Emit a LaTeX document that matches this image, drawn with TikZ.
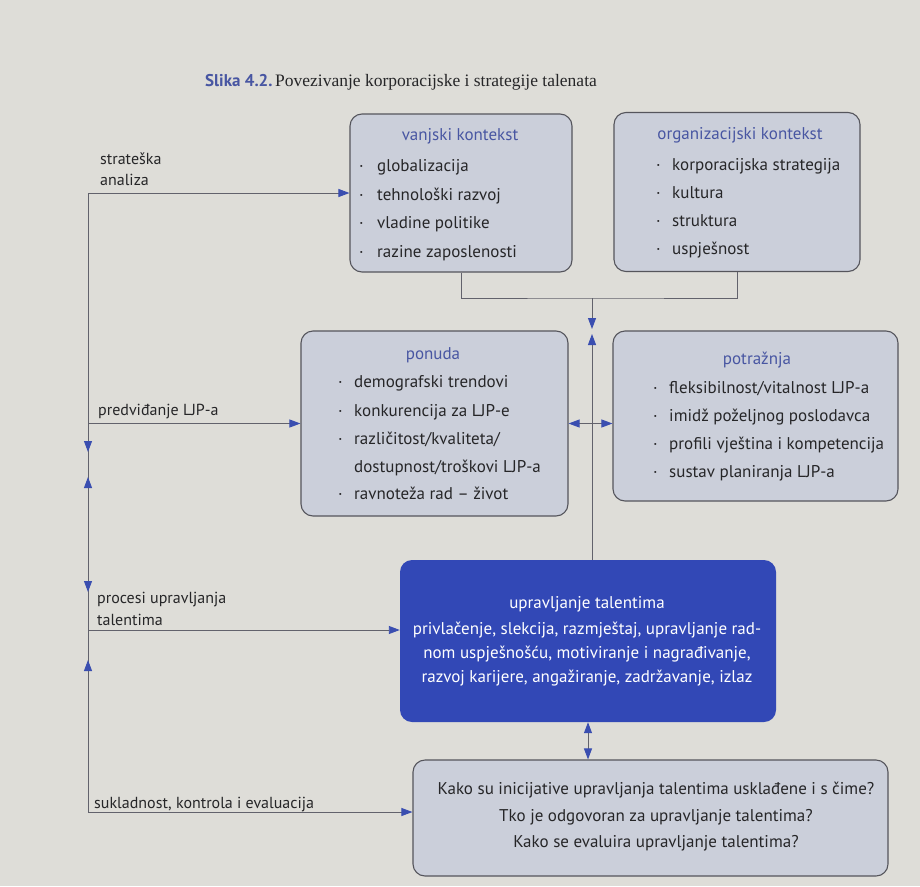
\documentclass[tikz,border=0pt]{standalone}
\usepackage{fontspec}
\setmainfont{PT Sans}
\newfontfamily\titleserif{Liberation Serif}
\usetikzlibrary{arrows.meta,decorations.markings}
\definecolor{pagebg}{RGB}{222,221,216}
\definecolor{boxfill}{RGB}{203,207,218}
\definecolor{boxline}{RGB}{85,85,92}
\definecolor{headblue}{RGB}{72,86,162}
\definecolor{talblue}{RGB}{50,72,182}
\definecolor{arrblue}{RGB}{58,78,176}
\definecolor{linegrey}{RGB}{98,98,108}
\definecolor{textdark}{RGB}{38,38,40}
\begin{document}
\begin{tikzpicture}[x=1pt,y=-1pt,
  >={Triangle[length=11pt,width=8pt,color=arrblue]},
  box/.style={draw=boxline, line width=1.1pt, fill=boxfill, rounded corners=12pt, inner sep=0pt},
  tbox/.style={fill=talblue, rounded corners=12pt, inner sep=0pt},
  txt/.style={font=\fontsize{17}{20}\selectfont, text height=12pt, text depth=3pt, inner sep=0pt},
  head/.style={txt, text=headblue},
  item/.style={txt, text=textdark, anchor=west},
  wtxt/.style={txt, text=white},
  qtxt/.style={txt, text=textdark},
  lab/.style={txt, text=textdark, anchor=west, font=\fontsize{16}{19}\selectfont},
  conn/.style={draw=linegrey, line width=0.9pt},
]
\fill[pagebg] (0,0) rectangle (920,886);
\useasboundingbox (0,0) rectangle (920,886);

% title
\node[anchor=west, inner sep=0pt] (title) at (205,82)
  {{\color{headblue}\fontsize{17}{20}\selectfont\bfseries Slika 4.2.}\ {\titleserif\fontsize{17.5}{20}\selectfont\color{textdark}Povezivanje korporacijske i strategije talenata}};

% boxes
\node[box, minimum width=222pt, minimum height=158pt] (vanj) at (461,193) {};
\node[box, minimum width=246pt, minimum height=159pt] (org) at (737,192) {};
\node[box, minimum width=267pt, minimum height=185pt] (pon) at (434.5,423.5) {};
\node[box, minimum width=285pt, minimum height=170pt] (pot) at (755.5,416) {};
\node[tbox, minimum width=376pt, minimum height=162pt] (upr) at (588,641) {};
\node[box, minimum width=475pt, minimum height=116pt] (q) at (650.5,818) {};

% vanjski kontekst
\node[head] (vh) at (460,136) {vanjski kontekst};
\node[item] (v1) at (359,167) {\makebox[18pt][l]{·}globalizacija};
\node[item] (v2) at (359,196) {\makebox[18pt][l]{·}tehnološki razvoj};
\node[item] (v3) at (359,224) {\makebox[18pt][l]{·}vladine politike};
\node[item] (v4) at (359,253) {\makebox[18pt][l]{·}razine zaposlenosti};

% organizacijski kontekst
\node[head] (oh) at (740,135) {organizacijski kontekst};
\node[item] (o1) at (656,166) {\makebox[16pt][l]{·}korporacijska strategija};
\node[item] (o2) at (656,194) {\makebox[16pt][l]{·}kultura};
\node[item] (o3) at (656,222) {\makebox[16pt][l]{·}struktura};
\node[item] (o4) at (656,250) {\makebox[16pt][l]{·}uspješnost};

% ponuda
\node[head] (ph) at (433,355) {ponuda};
\node[item] (p1) at (338,383) {\makebox[16pt][l]{·}demografski trendovi};
\node[item] (p2) at (338,412) {\makebox[16pt][l]{·}konkurencija za LJP-e};
\node[item] (p3) at (338,440) {\makebox[16pt][l]{·}različitost/kvaliteta/};
\node[item] (p4) at (338,468) {\makebox[16pt][l]{}dostupnost/troškovi LJP-a};
\node[item] (p5) at (338,495) {\makebox[16pt][l]{·}ravnoteža rad -- život};

% potraznja
\node[head] (th) at (757,360) {potražnja};
\node[item] (t1) at (653,389) {\makebox[16pt][l]{·}fleksibilnost/vitalnost LJP-a};
\node[item] (t2) at (653,417) {\makebox[16pt][l]{·}imidž poželjnog poslodavca};
\node[item] (t3) at (653,445) {\makebox[16pt][l]{·}profili vještina i kompetencija};
\node[item] (t4) at (653,473) {\makebox[16pt][l]{·}sustav planiranja LJP-a};

% upravljanje talentima
\node[wtxt] (uh) at (587,604) {upravljanje talentima};
\node[wtxt] (u1) at (587,630) {privlačenje, slekcija, razmještaj, upravljanje rad-};
\node[wtxt] (u2) at (587,654) {nom uspješnošću, motiviranje i nagrađivanje,};
\node[wtxt] (u3) at (587,678) {razvoj karijere, angažiranje, zadržavanje, izlaz};

% questions
\node[qtxt] (q1) at (656,790) {Kako su inicijative upravljanja talentima usklađene i s čime?};
\node[qtxt] (q2) at (656,817) {Tko je odgovoran za upravljanje talentima?};
\node[qtxt] (q3) at (656,843) {Kako se evaluira upravljanje talentima?};

% left labels
\node[lab] (l1a) at (100,160) {strateška};
\node[lab] (l1b) at (100,181) {analiza};
\node[lab] (l2) at (98,411) {predviđanje LJP-a};
\node[lab] (l3a) at (97,599) {procesi upravljanja};
\node[lab] (l3b) at (97,621) {talentima};
\node[lab] (l4) at (94,804) {sukladnost, kontrola i evaluacija};

% left feedback line
\coordinate (tl) at (88,193);
\coordinate (bl) at (88,812);
\draw[conn, postaction={decorate}, decoration={markings,
   mark=at position 259pt with {\arrow{>}},
   mark=at position 284pt with {\arrowreversed{>}},
   mark=at position 399pt with {\arrow{>}},
   mark=at position 467pt with {\arrowreversed{>}}}] (tl) -- (bl);
\draw[conn, ->] (tl) -- (vanj.west);
\coordinate (lp) at (88,423.5);
\draw[conn, ->] (lp) -- (pon.west);
\coordinate (lu) at (88,630);
\draw[conn, ->] (lu) -- (lu -| upr.west);
\draw[conn, ->] (bl) -- (bl -| q.west);

% top connection
\coordinate (j) at (592,298);
\coordinate (jd) at (592,329);
\coordinate (ju) at (592,334);
\draw[conn] (vanj.south) |- (j) -| (org.south);
\draw[conn, ->] (j) -- (jd);
\draw[conn, ->] (upr.north -| ju) -- (ju);

% ponuda <-> potraznja
\draw[conn, <->] (pon.east) -- (pon.east -| pot.west);

% upravljanje <-> questions
\draw[conn, <->] (upr.south) -- (upr.south |- q.north);
\end{tikzpicture}
\end{document}
